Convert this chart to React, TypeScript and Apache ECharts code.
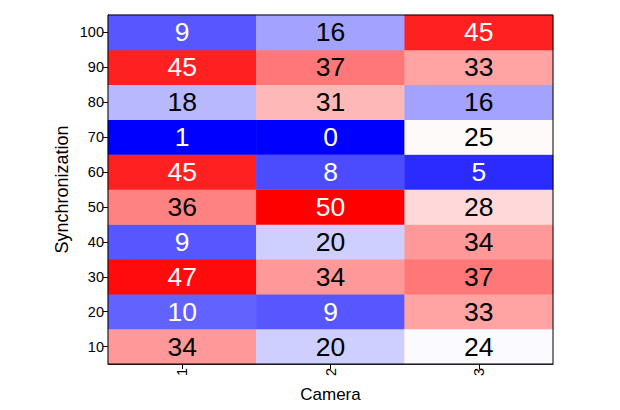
import React, { useEffect, useRef } from "react";
import * as echarts from "echarts";

const cameras = ["1", "2", "3"];
const syncLevels = ["10", "20", "30", "40", "50", "60", "70", "80", "90", "100"];
// values per camera, listed from sync 10 up to 100
const camera1 = [34, 10, 47, 9, 36, 45, 1, 18, 45, 9];
const camera2 = [20, 9, 34, 20, 50, 8, 0, 31, 37, 16];
const camera3 = [24, 33, 37, 34, 28, 5, 25, 16, 33, 45];
const colorMin = 1;
const colorMax = 48;

export default function App() {
  const ref = useRef<HTMLDivElement>(null);
  useEffect(() => {
    if (!ref.current) return;
    const chart = echarts.init(ref.current, undefined, { renderer: "svg" });
    const cols = [camera1, camera2, camera3];
    const data: any[] = [];
    cols.forEach((col, xi) => {
      col.forEach((v, yi) => {
        const white = v <= 12 || v >= 40;
        const c = Math.max(colorMin, Math.min(colorMax, v));
        data.push({
          value: [xi, yi, v, c],
          label: { color: white ? "#ffffff" : "#000000" },
        });
      });
    });
    const font = "Liberation Sans";
    chart.setOption({
      animation: false,
      textStyle: { fontFamily: font, fontSize: 14.5 },
      grid: {
        left: 108,
        right: 67,
        top: 15,
        bottom: 46,
        show: true,
        borderColor: "#000",
        borderWidth: 1,
        backgroundColor: "transparent",
        z: 10,
      },
      xAxis: {
        type: "category",
        data: cameras,
        name: "Camera",
        nameLocation: "middle",
        nameGap: 22,
        nameMoveOverlap: false,
        nameTextStyle: { fontSize: 17, color: "#000", fontFamily: font },
        axisLine: { show: true, lineStyle: { color: "#000" } },
        axisTick: { show: true, alignWithLabel: true, length: 5, lineStyle: { color: "#000" } },
        axisLabel: {
          show: true,
          rotate: 90,
          fontSize: 14.5,
          color: "#000",
          fontFamily: font,
          margin: 4,
        },
        splitArea: { show: false },
      },
      yAxis: {
        type: "category",
        data: syncLevels,
        name: "Synchronization",
        nameLocation: "middle",
        nameGap: 37,
        nameMoveOverlap: false,
        nameTextStyle: { fontSize: 18, color: "#000", fontFamily: font },
        axisLine: { show: true, lineStyle: { color: "#000" } },
        axisTick: { show: true, alignWithLabel: true, length: 5, lineStyle: { color: "#000" } },
        axisLabel: {
          show: true,
          fontSize: 14.5,
          color: "#000",
          fontFamily: font,
          margin: 4,
        },
      },
      visualMap: {
        show: false,
        min: colorMin,
        max: colorMax,
        dimension: 3,
        inRange: { color: ["#0000ff", "#ffffff", "#ff0000"] },
      },
      series: [
        {
          type: "heatmap",
          data,
          label: {
            show: true,
            fontSize: 26.5,
            fontFamily: font,
            formatter: (p: any) => String(p.value[2]),
          },
          itemStyle: { borderWidth: 0 },
          emphasis: { disabled: true },
        },
      ],
    });
    return () => chart.dispose();
  }, []);
  return (
    <div
      ref={ref}
      style={{ position: "fixed", left: 0, top: 0, width: 620, height: 410, background: "#fff" }}
    />
  );
}
